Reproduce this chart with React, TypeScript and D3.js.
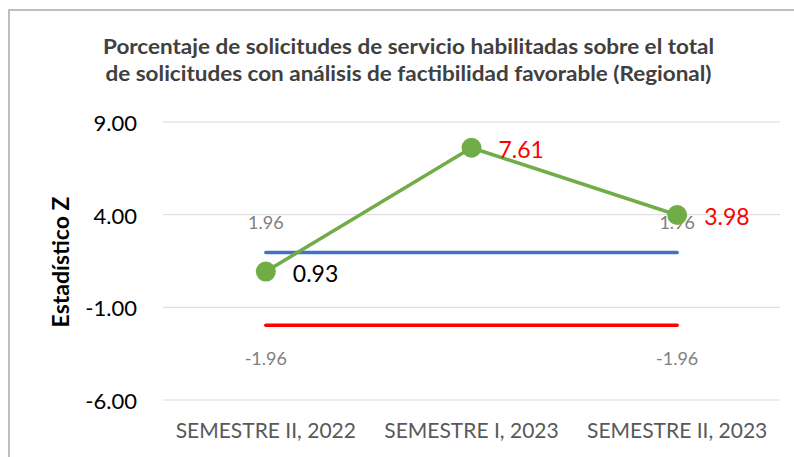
import React from "react";
import * as d3 from "d3";

const categories = ["SEMESTRE II, 2022", "SEMESTRE I, 2023", "SEMESTRE II, 2023"];
const zValues = [0.93, 7.61, 3.98];
const upperLimit = [1.96, 1.96, 1.96];
const lowerLimit = [-1.96, -1.96, -1.96];
const yTicks = [9, 4, -1, -6];
const zLabelColors = ["#000000", "#FF0000", "#FF0000"];
const titleLines = [
  "Porcentaje de solicitudes de servicio habilitadas sobre el total",
  "de solicitudes con análisis de factibilidad favorable (Regional)",
];
const titleWidths = [611, 606];

const W = 794;
const H = 457;
const FONT = "Lato, 'Open Sans', sans-serif";
const fmt = (v: number) => v.toFixed(2);

export default function App() {
  const x = d3.scaleBand<string>().domain(categories).range([163, 780]);
  const y = d3.scaleLinear().domain([-6, 9]).range([400, 122]);
  const cx = (c: string) => (x(c) as number) + x.bandwidth() / 2;
  const line = d3
    .line<number>()
    .x((_, i) => cx(categories[i]))
    .y((d) => y(d));

  return (
    <svg
      width={W}
      height={H}
      style={{ position: "absolute", left: 0, top: 0, background: "#fff" }}
      fontFamily={FONT}
    >
      <rect x={0} y={0} width={W} height={H} fill="#fff" />
      {/* chart frame */}
      <path d={`M9,${H} V10 H${W}`} fill="none" stroke="#BFBFBF" strokeWidth={2} />

      {/* title */}
      {titleLines.map((t, i) => (
        <text
          key={i}
          x={408.5}
          y={54 + i * 27}
          textAnchor="middle"
          fontWeight="bold"
          fontSize={21}
          fill="#404040"
          textLength={titleWidths[i]}
          lengthAdjust="spacingAndGlyphs"
        >
          {t}
        </text>
      ))}

      {/* gridlines */}
      {yTicks.map((t) => (
        <line key={t} x1={163} x2={780} y1={y(t)} y2={y(t)} stroke="#D9D9D9" strokeWidth={1} />
      ))}

      {/* y tick labels */}
      {yTicks.map((t) => (
        <text key={t} x={137} y={y(t) + 9} textAnchor="end" fontSize={22} fill="#000">
          {fmt(t)}
        </text>
      ))}

      {/* y axis title */}
      <text
        transform={`translate(69,262) rotate(-90)`}
        textAnchor="middle"
        fontWeight="bold"
        fontSize={23}
        fill="#000"
      >
        Estadístico Z
      </text>

      {/* x labels */}
      {categories.map((c) => (
        <text key={c} x={cx(c)} y={438} textAnchor="middle" fontSize={21} fill="#595959">
          {c}
        </text>
      ))}

      {/* limit lines */}
      <path d={line(upperLimit) as string} fill="none" stroke="#4472C4" strokeWidth={3.5} strokeLinecap="round" />
      <path d={line(lowerLimit) as string} fill="none" stroke="#FF0000" strokeWidth={3.5} strokeLinecap="round" />

      {/* upper limit labels (first and last points) */}
      {[0, 2].map((i) => (
        <text key={"u" + i} x={cx(categories[i])} y={y(upperLimit[i]) - 23} textAnchor="middle" fontSize={18} fill="#808080">
          {fmt(upperLimit[i])}
        </text>
      ))}

      {/* z series */}
      <path d={line(zValues) as string} fill="none" stroke="#70AD47" strokeWidth={3.5} strokeLinejoin="round" />
      {zValues.map((v, i) => (
        <circle key={i} cx={cx(categories[i])} cy={y(v)} r={10} fill="#70AD47" />
      ))}

      {/* lower limit labels */}
      {[0, 2].map((i) => (
        <text key={"l" + i} x={cx(categories[i])} y={y(lowerLimit[i]) + 40} textAnchor="middle" fontSize={18} fill="#808080">
          {fmt(lowerLimit[i])}
        </text>
      ))}

      {zValues.map((v, i) => (
        <text key={"z" + i} x={cx(categories[i]) + 27} y={y(v) + 10} fontSize={23} fill={zLabelColors[i]}>
          {fmt(v)}
        </text>
      ))}
    </svg>
  );
}
